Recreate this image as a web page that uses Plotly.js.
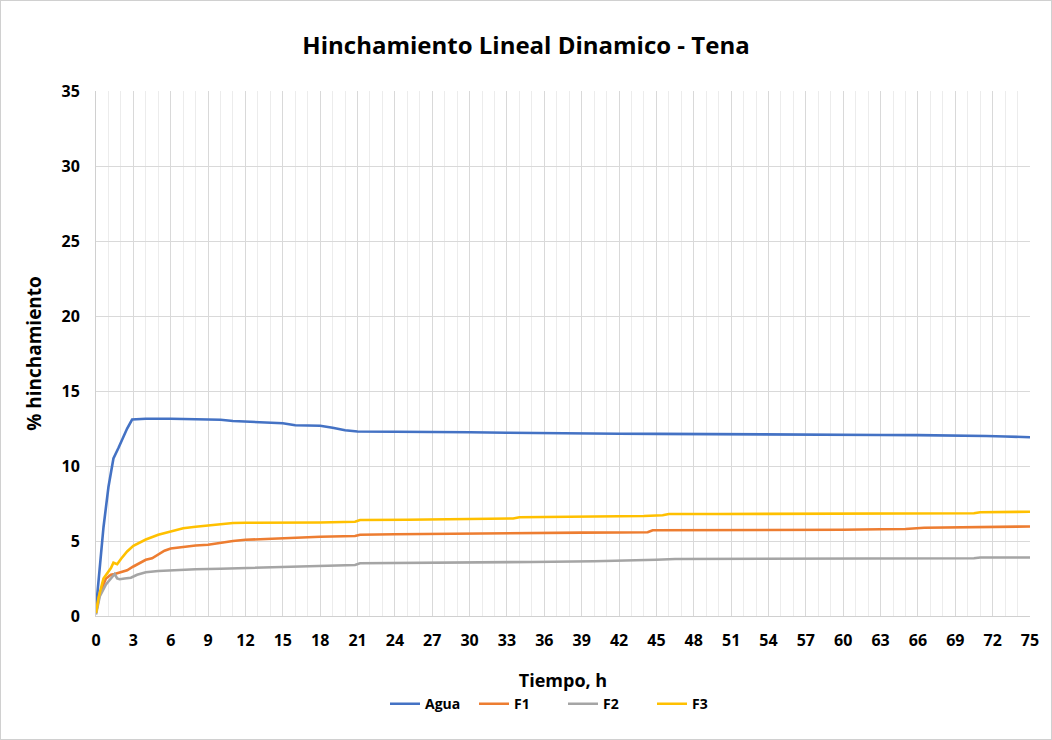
<!DOCTYPE html>
<html>
<head>
<meta charset="utf-8">
<script src="https://cdn.plot.ly/plotly-3.0.1.min.js"></script>
<style>
  html, body { margin: 0; padding: 0; background: #fff; }
  #chart { width: 1050px; height: 738px; border: 1px solid #d0d0d0; }
</style>
</head>
<body>
<div id="chart"></div>
<script>
  const seriesNames = ['Agua', 'F1', 'F2', 'F3'];
  const seriesColors = ['#4472C4', '#ED7D31', '#A5A5A5', '#FFC000'];

  const aguaTime = [0, 0.3, 0.6, 1.0, 1.4, 1.8, 2.2, 2.5, 2.9, 4, 6, 8, 9, 10, 11, 12, 13, 14, 15, 16, 17, 18, 19, 20, 21, 24, 27, 30, 33, 36, 39, 42, 45, 48, 51, 54, 57, 60, 63, 66, 69, 70.5, 71.5, 73, 75];
  const aguaValues = [0.5, 3.2, 5.9, 8.6, 10.5, 11.2, 12.0, 12.5, 13.1, 13.15, 13.15, 13.13, 13.12, 13.08, 13.0, 12.95, 12.93, 12.9, 12.85, 12.72, 12.7, 12.68, 12.55, 12.38, 12.3, 12.3, 12.28, 12.25, 12.22, 12.18, 12.16, 12.15, 12.14, 12.12, 12.1, 12.1, 12.08, 12.08, 12.07, 12.06, 12.05, 12.05, 12.0, 11.97, 11.92];

  const f1Time = [0, 0.3, 0.8, 1.2, 1.5, 2.0, 2.5, 3.0, 3.5, 4.0, 4.5, 5.0, 5.5, 6.0, 7.0, 8.0, 9.0, 10, 11, 12, 13, 15, 18, 20.8, 21.2, 24, 27, 30, 33, 36, 39, 42, 44.3, 44.7, 48, 51, 54, 57, 60, 63, 65, 66.5, 68, 71, 75];
  const f1Values = [0.2, 1.5, 2.5, 2.75, 2.8, 2.95, 3.05, 3.3, 3.55, 3.75, 3.85, 4.1, 4.35, 4.5, 4.62, 4.7, 4.75, 4.88, 5.0, 5.08, 5.12, 5.2, 5.28, 5.33, 5.42, 5.45, 5.48, 5.5, 5.53, 5.55, 5.56, 5.57, 5.58, 5.72, 5.72, 5.72, 5.72, 5.73, 5.75, 5.78, 5.8, 5.88, 5.9, 5.95, 5.97];

  const f2Time = [0, 0.3, 0.8, 1.1, 1.5, 1.7, 1.9, 2.3, 2.8, 3.3, 4, 5, 6, 8, 10, 12, 15, 18, 20.8, 21.2, 24, 30, 35, 40, 44, 45, 46.5, 50, 55, 60, 65, 70.5, 71, 75];
  const f2Values = [0.1, 1.3, 2.1, 2.4, 2.8, 2.5, 2.45, 2.5, 2.55, 2.75, 2.92, 3.0, 3.05, 3.12, 3.15, 3.2, 3.3, 3.38, 3.4, 3.52, 3.53, 3.55, 3.6, 3.65, 3.7, 3.75, 3.8, 3.8, 3.8, 3.8, 3.82, 3.85, 3.9, 3.9];

  const f3Time = [0, 0.2, 0.6, 1.0, 1.2, 1.4, 1.7, 2.0, 2.5, 3.0, 3.5, 4.0, 5.0, 6.0, 7.0, 8.0, 9.0, 10, 11, 12, 15, 18, 20.8, 21.2, 25, 30, 33.5, 34, 40, 44, 45.5, 46, 50, 55, 60, 65, 70.5, 71, 75];
  const f3Values = [0.2, 1.2, 2.5, 3.0, 3.2, 3.55, 3.45, 3.8, 4.3, 4.68, 4.9, 5.1, 5.42, 5.62, 5.85, 5.95, 6.05, 6.15, 6.2, 6.22, 6.22, 6.23, 6.28, 6.4, 6.42, 6.48, 6.5, 6.58, 6.62, 6.67, 6.72, 6.8, 6.8, 6.8, 6.8, 6.82, 6.85, 6.92, 6.95];

  const xTicks = [];
  for (let t = 0; t <= 75; t += 3) xTicks.push(t);

  const font = '"Open Sans", Lato, sans-serif';
  const times = [aguaTime, f1Time, f2Time, f3Time];
  const values = [aguaValues, f1Values, f2Values, f3Values];

  const traces = seriesNames.map((name, i) => ({
    name,
    x: times[i],
    y: values[i],
    type: 'scatter',
    mode: 'lines',
    line: { color: seriesColors[i], width: 2.6 }
  }));

  const layout = {
    width: 1050,
    height: 738,
    margin: { l: 95, r: 21, t: 90, b: 123 },
    paper_bgcolor: '#fff',
    plot_bgcolor: '#fff',
    font: { family: font, color: '#000' },
    title: {
      text: '<b>Hinchamiento Lineal Dinamico - Tena</b>',
      font: { family: font, size: 24, color: '#000' },
      x: 0.5, xanchor: 'center', y: 0.94, yanchor: 'middle'
    },
    xaxis: {
      range: [0, 75],
      tickvals: xTicks,
      ticktext: xTicks.map(String),
      tickfont: { family: font, size: 16, color: '#000', weight: 'bold' },
      ticklabelstandoff: 10,
      showgrid: true,
      gridcolor: '#d9d9d9',
      gridwidth: 1,
      minor: { dtick: 1, showgrid: true, gridcolor: '#ececec', gridwidth: 1 },
      showline: true,
      linecolor: '#d0d0d0',
      ticks: '',
      zeroline: false,
      title: { text: '<b>Tiempo, h</b>', font: { family: font, size: 18, color: '#000' }, standoff: 24 }
    },
    yaxis: {
      range: [0, 35],
      dtick: 5,
      tickfont: { family: font, size: 16, color: '#000', weight: 'bold' },
      ticklabelstandoff: 12,
      showgrid: true,
      gridcolor: '#d9d9d9',
      gridwidth: 1,
      showline: true,
      linecolor: '#d0d0d0',
      ticks: '',
      zeroline: false,
      title: { text: '<b>% hinchamiento</b>', font: { family: font, size: 19, color: '#000' }, standoff: 14 }
    },
    legend: {
      orientation: 'h',
      x: 0.5, xanchor: 'center',
      y: -0.168, yanchor: 'middle',
      font: { family: font, size: 14, color: '#000', weight: 'bold' },
      entrywidth: 44,
      bgcolor: 'rgba(0,0,0,0)'
    },
    showlegend: true
  };

  Plotly.newPlot('chart', traces, layout, { displayModeBar: false, responsive: false });
</script>
</body>
</html>
